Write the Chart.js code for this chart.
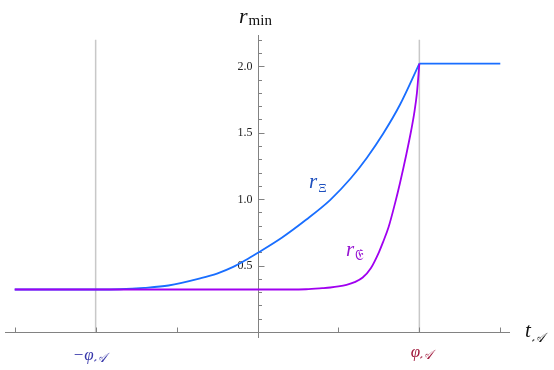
<!DOCTYPE html>
<html>
<head>
<meta charset="utf-8">
<script src="https://cdn.jsdelivr.net/npm/chart.js@4.4.1/dist/chart.umd.min.js"></script>
<style>
  html, body { margin: 0; padding: 0; background: #fff; }
  #wrap { position: relative; width: 554px; height: 370px; }
</style>
</head>
<body>
<div id="wrap"><canvas id="rmin_chart"></canvas></div>
<script>
// r_Xi curve (blue)
const xiT = [-3, -2, -1.7, -1.4, -1.1, -0.7, -0.5, -0.3, -0.15, 0, 0.3, 0.6, 0.9, 1.15, 1.35, 1.55, 1.76, 2.0];
const xiR = [0.32, 0.32, 0.322, 0.332, 0.35, 0.405, 0.44, 0.49, 0.54, 0.595, 0.71, 0.845, 0.995, 1.155, 1.31, 1.49, 1.71, 2.02];

// r_E curve (purple)
const eT = [-3, 0.4, 0.6, 0.8, 0.9, 1.0, 1.1, 1.2, 1.3, 1.4, 1.5, 1.55, 1.62, 1.7, 1.76, 1.84, 1.9, 1.94, 1.97, 2.0];
const eR = [0.32, 0.32, 0.322, 0.33, 0.335, 0.343, 0.355, 0.375, 0.41, 0.48, 0.60, 0.675, 0.79, 0.97, 1.12, 1.34, 1.52, 1.66, 1.80, 2.02];

// plateau after phi_A
const plateauT = [2.0, 3.0];
const plateauR = [2.02, 2.02];

const xMajorTicks = [-3, -2, -1, 0, 1, 2, 3];
const yTickValues = [0.5, 1.0, 1.5, 2.0];
const yTickLabels = ['0.5', '1.0', '1.5', '2.0'];
const yMinorTicks = [0.1, 0.2, 0.3, 0.4, 0.6, 0.7, 0.8, 0.9, 1.1, 1.2, 1.3, 1.4, 1.6, 1.7, 1.8, 1.9, 2.1, 2.2];
const phiLines = [-2, 2];

const toPoints = (ts, rs) => ts.map((t, i) => ({ x: t, y: rs[i] }));

const SERIF = '"Liberation Serif", "DejaVu Serif", serif';
const MATH = '"DejaVu Serif", "DejaVu Sans", serif';

// draws a list of pieces one after another: {t, font, dy, color}
function drawPieces(ctx, x, y, pieces, align) {
  let w = 0;
  pieces.forEach(p => { ctx.font = p.font; w += ctx.measureText(p.t).width + (p.gap || 0); });
  let cx = align === 'center' ? x - w / 2 : x;
  ctx.textAlign = 'left';
  ctx.textBaseline = 'alphabetic';
  pieces.forEach(p => {
    ctx.font = p.font;
    ctx.fillStyle = p.color;
    ctx.fillText(p.t, cx, y + (p.dy || 0));
    cx += ctx.measureText(p.t).width + (p.gap || 0);
  });
}

const axesPlugin = {
  id: 'axesPlugin',
  beforeDatasetsDraw(chart) {
    const ctx = chart.ctx;
    const xs = chart.scales.x, ys = chart.scales.y;
    const x0 = Math.round(xs.getPixelForValue(0)) + 0.5;
    const y0 = Math.round(ys.getPixelForValue(0)) + 0.5;
    ctx.save();
    // phi lines
    ctx.strokeStyle = 'rgb(200,200,200)';
    ctx.lineWidth = 1.5;
    phiLines.forEach(v => {
      const px = xs.getPixelForValue(v);
      ctx.beginPath();
      ctx.moveTo(px, ys.getPixelForValue(2.2));
      ctx.lineTo(px, y0);
      ctx.stroke();
    });
    // axes
    ctx.strokeStyle = 'rgb(130,130,130)';
    ctx.lineWidth = 1;
    ctx.beginPath();
    ctx.moveTo(xs.left, y0); ctx.lineTo(xs.right, y0);
    ctx.moveTo(x0, ys.top); ctx.lineTo(x0, ys.bottom);
    xMajorTicks.forEach(v => {
      if (v === 0) return;
      const px = Math.round(xs.getPixelForValue(v)) + 0.5;
      ctx.moveTo(px, y0); ctx.lineTo(px, y0 - 5);
    });
    yTickValues.forEach(v => {
      const py = Math.round(ys.getPixelForValue(v)) + 0.5;
      ctx.moveTo(x0, py); ctx.lineTo(x0 + 6, py);
    });
    yMinorTicks.forEach(v => {
      const py = Math.round(ys.getPixelForValue(v)) + 0.5;
      ctx.moveTo(x0, py); ctx.lineTo(x0 + 3.5, py);
    });
    ctx.stroke();
    // y tick labels
    ctx.fillStyle = '#222';
    ctx.font = '12px ' + SERIF;
    ctx.textAlign = 'right';
    ctx.textBaseline = 'middle';
    yTickValues.forEach((v, i) => {
      ctx.fillText(yTickLabels[i], x0 - 6, ys.getPixelForValue(v) + 0.5);
    });
    ctx.restore();
  },
  afterDatasetsDraw(chart) {
    const ctx = chart.ctx;
    const xs = chart.scales.x;
    ctx.save();
    const it = (s) => 'italic ' + s + 'px ' + SERIF;
    const up = (s) => s + 'px ' + SERIF;
    const cal = (s) => 'italic ' + s + 'px ' + MATH;
    // r_min
    drawPieces(ctx, 239, 23, [
      { t: 'r', font: it(22), color: '#111', gap: 1 },
      { t: 'min', font: up(15), color: '#111', dy: 2 }
    ]);
    // t_A
    drawPieces(ctx, 525, 337, [
      { t: 't', font: it(21), color: '#111', gap: 1 },
      { t: '\u{1D49C}', font: cal(13), color: '#111', dy: 5 }
    ]);
    // -phi_A and phi_A
    const blueLbl = 'rgb(55,55,170)', redLbl = 'rgb(160,25,60)';
    drawPieces(ctx, xs.getPixelForValue(-2) - 6, 360, [
      { t: '\u2212', font: up(17), color: blueLbl, gap: 1 },
      { t: '\u03C6', font: it(17), color: blueLbl },
      { t: '\u{1D49C}', font: cal(13), color: blueLbl, dy: 2 }
    ], 'center');
    drawPieces(ctx, xs.getPixelForValue(2) + 2, 357, [
      { t: '\u03C6', font: it(17), color: redLbl },
      { t: '\u{1D49C}', font: cal(13), color: redLbl, dy: 2 }
    ], 'center');
    // curve labels
    drawPieces(ctx, 309, 188, [
      { t: 'r', font: it(21), color: 'rgb(30,80,190)', gap: 1 },
      { t: '\u039E', font: up(13), color: 'rgb(30,80,190)', dy: 4 }
    ]);
    drawPieces(ctx, 346, 256, [
      { t: 'r', font: it(21), color: 'rgb(150,20,210)', gap: 1 },
      { t: '\u{1D508}', font: up(14), color: 'rgb(150,20,210)', dy: 4 }
    ]);
    ctx.restore();
  }
};

const lineStyle = (color) => ({
  borderColor: color,
  borderWidth: 1.8,
  pointRadius: 0,
  cubicInterpolationMode: 'monotone',
  fill: false
});

const ctx = document.getElementById('rmin_chart').getContext('2d');
const rminChart = new Chart(ctx, {
  type: 'line',
  data: {
    datasets: [
      Object.assign({ label: 'r_E', data: toPoints(eT, eR) }, lineStyle('rgb(160,0,240)')),
      Object.assign({ label: 'r_Xi', data: toPoints(xiT, xiR) }, lineStyle('rgb(25,110,255)')),
      Object.assign({ label: 'plateau', data: toPoints(plateauT, plateauR) }, lineStyle('rgb(25,110,255)'))
    ]
  },
  options: {
    responsive: true,
    maintainAspectRatio: false,
    animation: false,
    layout: { padding: { left: 5, right: 44, top: 35, bottom: 32 } },
    scales: {
      x: { type: 'linear', min: -3.12, max: 3.12, display: false },
      y: { type: 'linear', min: -0.045, max: 2.235, display: false }
    },
    plugins: {
      legend: { display: false },
      tooltip: { enabled: false }
    }
  },
  plugins: [axesPlugin]
});
</script>
</body>
</html>
